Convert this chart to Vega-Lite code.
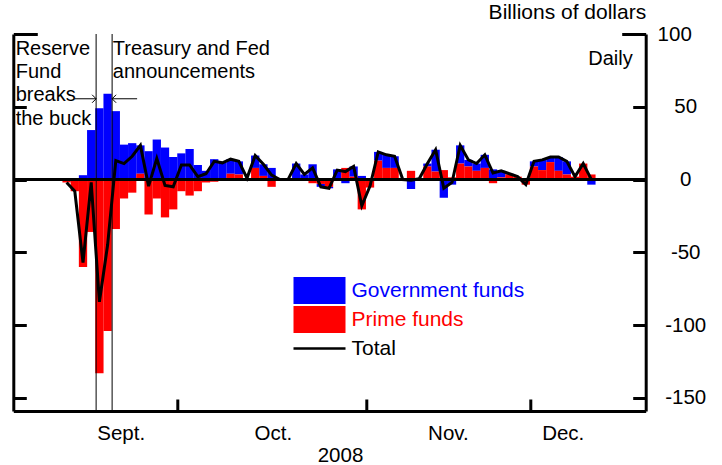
{
  "$schema": "https://vega.github.io/schema/vega-lite/v6.json",
  "width": 632.4,
  "height": 377,
  "autosize": {"type": "none"},
  "padding": {"left": 13.3, "top": 34, "right": 76.3, "bottom": 54},
  "background": "white",
  "config": {
    "font": "Liberation Sans",
    "view": {"stroke": null},
    "axis": {"grid": false, "domainColor": "black", "domainWidth": 3, "tickColor": "black", "tickWidth": 3, "labelColor": "black", "titleColor": "black", "labelFont": "Liberation Sans", "titleFont": "Liberation Sans"}
  },
  "datasets": {
    "flows": [
      {"k": 6, "Government funds": 0, "Prime funds": -2, "Total": -2},
      {"k": 7, "Government funds": 0, "Prime funds": -8, "Total": -8},
      {"k": 8, "Government funds": 3, "Prime funds": -60, "Total": -57},
      {"k": 9, "Government funds": 34, "Prime funds": -36, "Total": -2},
      {"k": 10, "Government funds": 49, "Prime funds": -133, "Total": -84},
      {"k": 11, "Government funds": 59, "Prime funds": -104, "Total": -45},
      {"k": 12, "Government funds": 47, "Prime funds": -34, "Total": 13},
      {"k": 13, "Government funds": 24, "Prime funds": -13, "Total": 11},
      {"k": 14, "Government funds": 25, "Prime funds": -9, "Total": 16},
      {"k": 15, "Government funds": 19.5, "Prime funds": 4, "Total": 23.5},
      {"k": 16, "Government funds": 19.5, "Prime funds": -24, "Total": -4.5},
      {"k": 17, "Government funds": 27.5, "Prime funds": -13, "Total": 14.5},
      {"k": 18, "Government funds": 22, "Prime funds": -26, "Total": -4},
      {"k": 19, "Government funds": 15.5, "Prime funds": -20.5, "Total": -5},
      {"k": 20, "Government funds": 18, "Prime funds": -8, "Total": 10},
      {"k": 21, "Government funds": 21, "Prime funds": -11, "Total": 10},
      {"k": 22, "Government funds": 10, "Prime funds": -8, "Total": 2},
      {"k": 23, "Government funds": 6, "Prime funds": -2, "Total": 4},
      {"k": 24, "Government funds": 14, "Prime funds": -1.5, "Total": 12.5},
      {"k": 25, "Government funds": 11.5, "Prime funds": 0, "Total": 11.5},
      {"k": 26, "Government funds": 10, "Prime funds": 4, "Total": 14},
      {"k": 27, "Government funds": 9, "Prime funds": 3.5, "Total": 12.5},
      {"k": 28, "Government funds": 1, "Prime funds": 0, "Total": 1},
      {"k": 29, "Government funds": 8.5, "Prime funds": 8, "Total": 16.5},
      {"k": 30, "Government funds": 8, "Prime funds": 2.5, "Total": 10.5},
      {"k": 31, "Government funds": 8, "Prime funds": -5, "Total": 3},
      {"k": 32, "Government funds": 0, "Prime funds": 0, "Total": 0},
      {"k": 33, "Government funds": 1, "Prime funds": -1, "Total": 0},
      {"k": 34, "Government funds": 10.5, "Prime funds": 0.5, "Total": 11},
      {"k": 35, "Government funds": 3.5, "Prime funds": 0, "Total": 3.5},
      {"k": 36, "Government funds": 10.5, "Prime funds": -2.5, "Total": 8},
      {"k": 37, "Government funds": -2, "Prime funds": -3, "Total": -5},
      {"k": 38, "Government funds": -1, "Prime funds": -5, "Total": -6},
      {"k": 39, "Government funds": 7, "Prime funds": -0.5, "Total": 6.5},
      {"k": 40, "Government funds": -2.5, "Prime funds": 8, "Total": 5.5},
      {"k": 41, "Government funds": 7, "Prime funds": 2, "Total": 9},
      {"k": 42, "Government funds": 2.5, "Prime funds": -20.5, "Total": -18},
      {"k": 43, "Government funds": 1, "Prime funds": -5.5, "Total": -4.5},
      {"k": 44, "Government funds": 6, "Prime funds": 13, "Total": 19},
      {"k": 45, "Government funds": 9, "Prime funds": 8, "Total": 17},
      {"k": 46, "Government funds": 8, "Prime funds": 8, "Total": 16},
      {"k": 47, "Government funds": -1, "Prime funds": 1, "Total": 0},
      {"k": 48, "Government funds": -6.5, "Prime funds": 6, "Total": -0.5},
      {"k": 49, "Government funds": 0, "Prime funds": 0.5, "Total": 0.5},
      {"k": 50, "Government funds": 2, "Prime funds": 9, "Total": 11},
      {"k": 51, "Government funds": 15, "Prime funds": 5.5, "Total": 20.5},
      {"k": 52, "Government funds": -12.5, "Prime funds": 6.5, "Total": -6},
      {"k": 53, "Government funds": -3.5, "Prime funds": 1.5, "Total": -2},
      {"k": 54, "Government funds": 12.5, "Prime funds": 11, "Total": 23.5},
      {"k": 55, "Government funds": 4.5, "Prime funds": 9, "Total": 13.5},
      {"k": 56, "Government funds": 5, "Prime funds": 6, "Total": 11},
      {"k": 57, "Government funds": 9, "Prime funds": 8, "Total": 17},
      {"k": 58, "Government funds": 7, "Prime funds": -2.5, "Total": 4.5},
      {"k": 59, "Government funds": 4.5, "Prime funds": 1.5, "Total": 6},
      {"k": 60, "Government funds": 0.5, "Prime funds": 3.5, "Total": 4},
      {"k": 61, "Government funds": 0, "Prime funds": 2, "Total": 2},
      {"k": 62, "Government funds": 0, "Prime funds": -3.5, "Total": -3.5},
      {"k": 63, "Government funds": 3.5, "Prime funds": 9, "Total": 12.5},
      {"k": 64, "Government funds": 7, "Prime funds": 6.5, "Total": 13.5},
      {"k": 65, "Government funds": 3.5, "Prime funds": 12, "Total": 15.5},
      {"k": 66, "Government funds": 9.5, "Prime funds": 6, "Total": 15.5},
      {"k": 67, "Government funds": 9, "Prime funds": 3.5, "Total": 12.5},
      {"k": 68, "Government funds": 0, "Prime funds": 2, "Total": 2},
      {"k": 69, "Government funds": 0, "Prime funds": 11, "Total": 11},
      {"k": 70, "Government funds": -3.5, "Prime funds": 3.5, "Total": 0}
    ]
  },
  "data": {"name": "flows"},
  "layer": [
    {
      "transform": [{"fold": ["Government funds", "Prime funds"], "as": ["type", "value"]}],
      "mark": {"type": "bar", "width": 8.3, "opacity": 1},
      "encoding": {
        "x": {"field": "k", "type": "quantitative", "scale": {"domain": [-0.5, 76.62], "nice": false, "zero": false, "padding": 0},
          "axis": {"orient": "bottom", "values": [19.5, 42.5, 62.5], "labels": false, "tickSize": -12, "title": null, "domain": true}},
        "y": {"field": "value", "type": "quantitative", "stack": "zero", "scale": {"domain": [-159, 100], "nice": false, "zero": false},
          "axis": {"orient": "right", "values": [-150, -100, -50, 0, 50, 100], "labelExpr": "'' + datum.value", "labelAlign": "center", "labelPadding": 52.5, "labelFontSize": 20.5, "tickSize": {"condition": {"test": "datum.value == 100", "value": -24}, "value": -13}, "title": "Billions of dollars", "titleAngle": 0, "titleAlign": "right", "titleBaseline": "alphabetic", "titleX": 0, "titleY": -15.7, "titleFontSize": 21, "titleFontWeight": "normal"}},
        "color": {"field": "type", "type": "nominal",
          "scale": {"domain": ["Government funds", "Prime funds", "Total"], "range": ["#0000ff", "#ff0000", "#000000"]},
          "legend": {"orient": "none", "legendX": 278.7, "legendY": 243, "title": null, "symbolSize": 400, "symbolStrokeWidth": 0, "clipHeight": 27, "labelFontSize": 21, "labelLimit": 0, "labelOffset": 36.5, "rowPadding": 2, "padding": 0, "symbolOpacity": 1,
            "encode": {
              "symbols": {"update": {
                "shape": {"signal": "datum.value === 'Total' ? 'M-1,0H4.2' : 'M-1,-1.35H4.2V1.35H-1Z'"},
                "fill": {"signal": "datum.value === 'Total' ? 'transparent' : (datum.value === 'Prime funds' ? '#ff0000' : '#0000ff')"},
                "stroke": {"signal": "datum.value === 'Total' ? '#000000' : 'transparent'"},
                "strokeWidth": {"value": 2.5},
                "opacity": {"value": 1}
              }},
              "labels": {"update": {
                "fill": {"signal": "datum.value === 'Government funds' ? '#0000ff' : (datum.value === 'Prime funds' ? '#ff0000' : '#000000')"}
              }}
            }}}
      }
    },
    {
      "data": {"values": [{}]},
      "mark": {"type": "rule", "color": "black", "strokeWidth": 3},
      "encoding": {"y": {"datum": 0, "axis": null}}
    },
    {
      "data": {"values": [{}]},
      "mark": {"type": "rule", "color": "black", "strokeWidth": 1},
      "encoding": {"x": {"datum": 9.6, "axis": null}}
    },
    {
      "data": {"values": [{}]},
      "mark": {"type": "rule", "color": "black", "strokeWidth": 1},
      "encoding": {"x": {"datum": 11.55, "axis": null}}
    },
    {
      "mark": {"type": "line", "color": "black", "strokeWidth": 3, "strokeJoin": "miter"},
      "encoding": {
        "x": {"field": "k", "type": "quantitative",
          "axis": {"orient": "bottom", "values": [12.6, 31.15, 52.5, 66.5], "labelExpr": "datum.value < 20 ? 'Sept.' : datum.value < 43 ? 'Oct.' : datum.value < 63 ? 'Nov.' : 'Dec.'", "ticks": false, "domain": false, "labelFontSize": 20.5, "labelBaseline": "alphabetic", "labelPadding": 28, "labelFlush": false, "labelOverlap": false, "title": "2008", "titleFontSize": 20.5, "titleFontWeight": "normal", "titleX": 326.7, "titleY": 50, "titleBaseline": "alphabetic"}},
        "y": {"field": "Total", "type": "quantitative",
          "axis": {"orient": "left", "values": [-150, -100, -50, 0, 50, 100], "labels": false, "tickSize": {"condition": {"test": "datum.value == 100", "value": -24}, "value": -13}, "title": null}}
      }
    },
    {
      "data": {"values": [{}]},
      "mark": {"type": "rule", "color": "black", "strokeWidth": 1},
      "encoding": {"x": {"datum": 7.0, "axis": null}, "x2": {"datum": 9.6}, "y": {"datum": 55.5, "axis": null}}
    },
    {
      "data": {"values": [{}]},
      "mark": {"type": "point", "shape": "M-1,-1L0,0L-1,1", "filled": false, "color": "black", "strokeWidth": 1, "size": 64, "opacity": 1},
      "encoding": {"x": {"datum": 9.6, "axis": null}, "y": {"datum": 55.5, "axis": null}}
    },
    {
      "data": {"values": [{}]},
      "mark": {"type": "rule", "color": "black", "strokeWidth": 1},
      "encoding": {"x": {"datum": 11.55, "axis": null}, "x2": {"datum": 14.6}, "y": {"datum": 55.5, "axis": null}}
    },
    {
      "data": {"values": [{}]},
      "mark": {"type": "point", "shape": "M1,-1L0,0L1,1", "filled": false, "color": "black", "strokeWidth": 1, "size": 64, "opacity": 1},
      "encoding": {"x": {"datum": 11.55, "axis": null}, "y": {"datum": 55.5, "axis": null}}
    },
    {
      "data": {"values": [{}]},
      "mark": {"type": "text", "text": ["Reserve", "Fund", "breaks", "the buck"], "align": "left", "baseline": "alphabetic", "fontSize": 20, "lineHeight": 23.4, "color": "black"},
      "encoding": {"x": {"datum": -0.21, "axis": null}, "y": {"datum": 85.9, "axis": null}}
    },
    {
      "data": {"values": [{}]},
      "mark": {"type": "text", "text": ["Treasury and Fed", "announcements"], "align": "left", "baseline": "alphabetic", "fontSize": 20, "lineHeight": 23.4, "color": "black"},
      "encoding": {"x": {"datum": 11.63, "axis": null}, "y": {"datum": 85.9, "axis": null}}
    },
    {
      "data": {"values": [{}]},
      "mark": {"type": "text", "text": "Daily", "align": "right", "baseline": "alphabetic", "fontSize": 20, "color": "black"},
      "encoding": {"x": {"datum": 75.04, "axis": null}, "y": {"datum": 79, "axis": null}}
    }
  ],
  "resolve": {"axis": {"x": "independent", "y": "independent"}}
}
